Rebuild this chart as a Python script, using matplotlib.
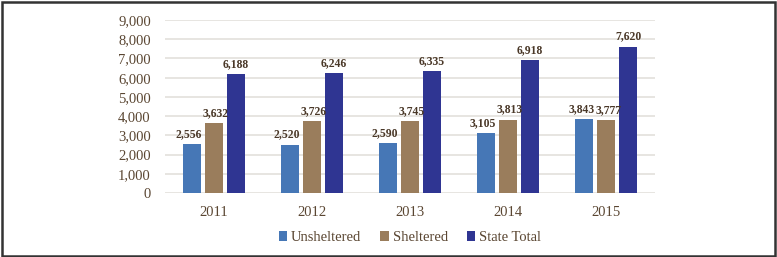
import matplotlib.pyplot as plt
import matplotlib.patches as mpatches
from matplotlib.ticker import FuncFormatter
import numpy as np

years = ["2011", "2012", "2013", "2014", "2015"]
unsheltered = [2556, 2520, 2590, 3105, 3843]
sheltered = [3632, 3726, 3745, 3813, 3777]
state_total = [6188, 6246, 6335, 6918, 7620]

series = [
    ("Unsheltered", unsheltered, "#4677b6"),
    ("Sheltered", sheltered, "#9a7d5c"),
    ("State Total", state_total, "#2f3592"),
]

TEXT = "#5a4632"
LABEL = "#4a3828"


def main():
    plt.rcParams["font.family"] = ["Liberation Serif", "DejaVu Serif"]
    fig = plt.figure(figsize=(7.77, 2.57), dpi=100)
    ax = fig.add_axes([0.212, 0.249, 0.631, 0.673])

    x = np.arange(len(years))
    w = 0.18
    step = 0.225
    nudge = [-2, 1.5, 0]  # points, keeps neighbouring labels apart
    for i, (name, vals, col) in enumerate(series):
        pos = x + (i - 1) * step
        bars = ax.bar(pos, vals, w, color=col, label=name, zorder=3)
        for b, v in zip(bars, vals):
            ax.annotate(f"{v:,}", (b.get_x() + b.get_width() / 2, v),
                        xytext=(nudge[i], 3), textcoords="offset points",
                        ha="center", va="bottom", fontsize=8.4,
                        fontweight="bold", color=LABEL, zorder=4)

    ax.set_xlim(-0.5, len(years) - 0.5)
    ax.set_ylim(0, 9000)
    ax.set_yticks(range(0, 9001, 1000))
    ax.yaxis.set_major_formatter(FuncFormatter(lambda v, p: f"{int(v):,}"))
    ax.set_xticks(x)
    ax.set_xticklabels(years)
    ax.grid(axis="y", color="#e3e0dc", linewidth=1.2, zorder=0)
    for s in ax.spines.values():
        s.set_visible(False)
    ax.tick_params(axis="both", length=0, labelsize=10.5, colors=TEXT)
    ax.tick_params(axis="y", pad=10)
    ax.tick_params(axis="x", pad=9)

    ax.legend(loc="upper center", bbox_to_anchor=(0.5, -0.145), ncol=3,
              frameon=False, fontsize=10.5, handlelength=0.6, handleheight=0.6,
              handletextpad=0.25, columnspacing=1.3, labelcolor=TEXT)

    fig.patches.append(mpatches.Rectangle((0.002, 0.004), 0.996, 0.99,
                                          transform=fig.transFigure, fill=False,
                                          edgecolor="#333333", linewidth=1.8))
    fig.savefig("out.png", dpi=100)


if __name__ == "__main__":
    main()
